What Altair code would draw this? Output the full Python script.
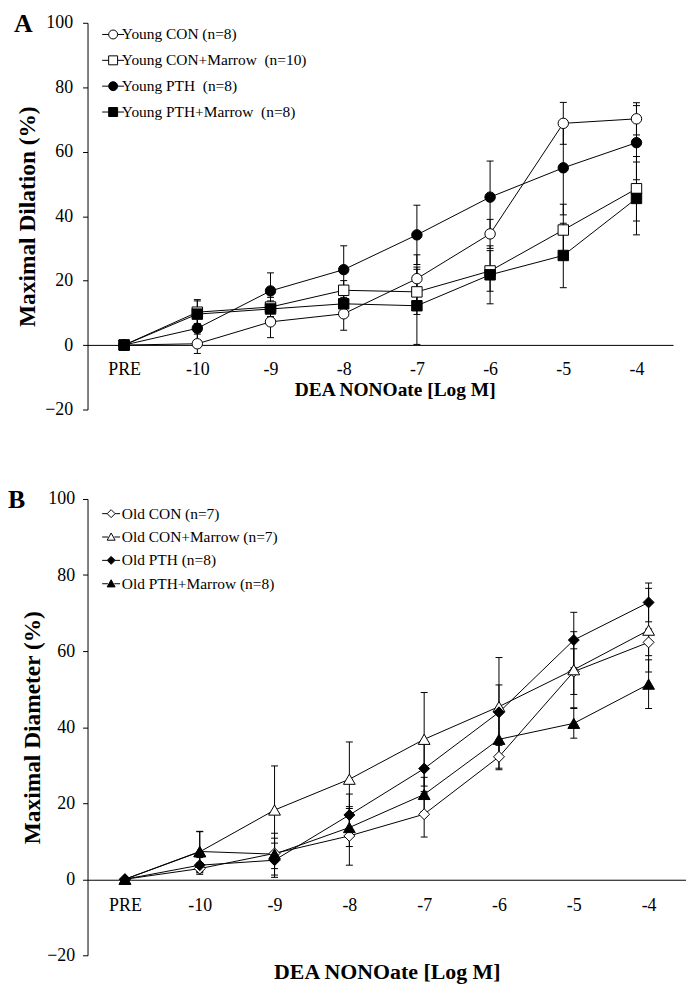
import altair as alt
import pandas as pd

x_labels = ["PRE", "-10", "-9", "-8", "-7", "-6", "-5", "-4"]

# ---------- Panel A (young) ----------
a_names = ["Young CON (n=8)", "Young CON+Marrow\u00a0 (n=10)",
           "Young PTH\u00a0 (n=8)", "Young PTH+Marrow\u00a0 (n=8)"]
a_young_con = [0, 0.4, 7.2, 9.7, 20.6, 34.5, 68.8, 70.2]
a_young_con_sem = [0, 3.0, 4.9, 5.1, 7.4, 4.5, 6.5, 5.0]
a_young_con_marrow = [0, 10.2, 11.8, 17.0, 16.5, 23.0, 35.7, 48.5]
a_young_con_marrow_sem = [0, 3.5, 3.0, 3.0, 7.0, 6.3, 8.0, 10.0]
a_young_pth = [0, 5.2, 16.8, 23.4, 34.2, 45.9, 55.0, 62.8]
a_young_pth_sem = [0, 4.0, 5.6, 7.4, 9.2, 11.2, 14.6, 11.5]
a_young_pth_marrow = [0, 9.6, 11.2, 12.8, 12.2, 21.8, 27.8, 45.5]
a_young_pth_marrow_sem = [0, 4.5, 2.5, 3.0, 12.0, 9.0, 10.0, 11.3]

# ---------- Panel B (old) ----------
b_names = ["Old CON (n=7)", "Old CON+Marrow (n=7)", "Old PTH (n=8)", "Old PTH+Marrow (n=8)"]
b_old_con = [0, 2.8, 6.8, 11.4, 17.1, 32.2, 54.6, 62.3]
b_old_con_sem = [0, 1.5, 4.0, 7.7, 6.0, 3.0, 6.0, 3.5]
b_old_con_marrow = [0, 7.2, 18.2, 26.3, 36.8, 45.4, 55.1, 65.5]
b_old_con_marrow_sem = [0, 5.3, 11.6, 9.8, 12.3, 12.9, 10.0, 11.0]
b_old_pth = [0, 3.7, 5.0, 16.9, 29.1, 43.9, 62.9, 72.8]
b_old_pth_sem = [0, 2.0, 4.5, 5.5, 6.5, 7.2, 7.3, 5.1]
b_old_pth_marrow = [0, 7.3, 6.6, 13.6, 22.3, 36.8, 41.0, 51.3]
b_old_pth_marrow_sem = [0, 5.3, 5.5, 5.0, 4.5, 8.0, 3.9, 6.4]

FONT = "Liberation Serif"


def make_df(names, means, sems):
    rows = []
    for name, m, s in zip(names, means, sems):
        for i, (lab, mv, sv) in enumerate(zip(x_labels, m, s)):
            rows.append({"series": name, "x": lab, "idx": i, "mean": mv,
                         "lo": mv - sv, "hi": mv + sv, "sem": sv})
    return pd.DataFrame(rows)


def panel(df, names, shapes, sizes, fills, legend_paths, legend_size, letter,
          ytitle, width, height, xoffset, xlab_pad, xtitle_pad, xtitle_size,
          xtitle_x, ytitle_size, ylab_pad, ytitle_pad, letter_x, letter_y,
          legend_x, legend_y, row_pad, label_offset):
    xscale = alt.Scale(domain=x_labels, type="point", padding=0.5)
    yscale = alt.Scale(domain=[-20, 100], nice=False, zero=False)
    xax = alt.Axis(title="DEA NONOate [Log M]", offset=xoffset, ticks=False,
                   tickSize=0, labelAngle=0, labelPadding=xlab_pad,
                   titlePadding=xtitle_pad, titleFontSize=xtitle_size,
                   titleX=xtitle_x, titleAlign="center", labelFontSize=18)
    yax = alt.Axis(title=ytitle, values=[-20, 0, 20, 40, 60, 80, 100],
                   tickSize=5, labelPadding=ylab_pad, titlePadding=ytitle_pad,
                   titleFontSize=ytitle_size, labelFontSize=18)
    X = alt.X("x:N", scale=xscale, axis=xax)
    base = alt.Chart(df)
    lines = base.mark_line(color="black", strokeWidth=1).encode(
        x=X, y=alt.Y("mean:Q", scale=yscale, axis=yax),
        detail="series:N", order="idx:Q")
    eb = base.transform_filter("datum.sem > 0")
    rules = eb.mark_rule(color="black", strokeWidth=1).encode(
        x=X, y=alt.Y("lo:Q", scale=yscale, axis=yax), y2="hi:Q")
    tlo = eb.mark_tick(color="black", thickness=1, size=7, opacity=1).encode(
        x=X, y=alt.Y("lo:Q", scale=yscale, axis=yax))
    thi = eb.mark_tick(color="black", thickness=1, size=7, opacity=1).encode(
        x=X, y=alt.Y("hi:Q", scale=yscale, axis=yax))
    pts = []
    for name, shp, sz, fc in zip(names, shapes, sizes, fills):
        pts.append(
            base.transform_filter(alt.datum.series == name)
            .mark_point(shape=shp, size=sz, filled=True, fill=fc, stroke="black",
                        strokeWidth=1, opacity=1)
            .encode(x=X, y=alt.Y("mean:Q", scale=yscale, axis=yax))
        )
    leg = alt.Legend(title=None, orient="none", legendX=legend_x, legendY=legend_y,
                     labelFont=FONT, labelFontSize=15.5, labelColor="black",
                     rowPadding=row_pad, labelOffset=label_offset,
                     symbolSize=legend_size, symbolStrokeColor="black",
                     symbolStrokeWidth=1, padding=0, offset=0, labelLimit=500)
    legend_layer = (
        base.transform_filter("false")
        .mark_point(filled=True, size=legend_size, stroke="black", strokeWidth=1,
                    opacity=1)
        .encode(
            x=X, y=alt.Y("mean:Q", scale=yscale, axis=yax),
            shape=alt.Shape("series:N", scale=alt.Scale(domain=names, range=legend_paths),
                            legend=leg),
            fill=alt.Fill("series:N", scale=alt.Scale(domain=names, range=fills),
                          legend=leg),
            stroke=alt.Stroke("series:N", scale=alt.Scale(domain=names, range=["black"] * 4),
                              legend=leg),
        )
    )
    letter_layer = alt.Chart(alt.Data(values=[{"t": letter}])).mark_text(
        font=FONT, fontSize=26, fontWeight="bold", align="left",
        baseline="top", color="black").encode(
        text="t:N", x=alt.value(letter_x), y=alt.value(letter_y))
    return alt.layer(lines, rules, tlo, thi, *pts, legend_layer, letter_layer).properties(
        width=width, height=height)


dfA = make_df(a_names,
              [a_young_con, a_young_con_marrow, a_young_pth, a_young_pth_marrow],
              [a_young_con_sem, a_young_con_marrow_sem, a_young_pth_sem, a_young_pth_marrow_sem])
dfB = make_df(b_names,
              [b_old_con, b_old_con_marrow, b_old_pth, b_old_pth_marrow],
              [b_old_con_sem, b_old_con_marrow_sem, b_old_pth_sem, b_old_pth_marrow_sem])

stA = 2.45
stB = 2.25
pathsA = [
    f"M-{stA},0L-1,0M1,0L{stA},0M-1,0A1,1,0,1,1,1,0A1,1,0,1,1,-1,0Z",
    f"M-{stA},0L-1,0M1,0L{stA},0M-1,-1L1,-1L1,1L-1,1Z",
    f"M-{stA},0L-1,0M1,0L{stA},0M-1,0A1,1,0,1,1,1,0A1,1,0,1,1,-1,0Z",
    f"M-{stA},0L-1,0M1,0L{stA},0M-1,-1L1,-1L1,1L-1,1Z",
]
pathsB = [
    f"M-{stB},0L-1,0M1,0L{stB},0M-1,0L0,-1L1,0L0,1Z",
    f"M-{stB},0L-0.8,0M0.8,0L{stB},0M0,-1L1,0.8L-1,0.8Z",
    f"M-{stB},0L-1,0M1,0L{stB},0M-1,0L0,-1L1,0L0,1Z",
    f"M-{stB},0L-0.8,0M0.8,0L{stB},0M0,-1L1,0.8L-1,0.8Z",
]

chartA = panel(dfA, a_names, ["circle", "square", "circle", "square"],
               [110, 110, 110, 110], ["white", "white", "black", "black"],
               pathsA, 81, "A", "Maximal Dilation (%)",
               width=589, height=389, xoffset=-65, xlab_pad=16, xtitle_pad=2,
               xtitle_size=19.5, xtitle_x=309, ytitle_size=23.5, ylab_pad=10,
               ytitle_pad=5, letter_x=-74, letter_y=-12, legend_x=18, legend_y=4,
               row_pad=9, label_offset=1)

chartB = panel(dfB, b_names, ["diamond", "triangle-up", "diamond", "triangle-up"],
               [121, 140, 121, 140], ["white", "white", "black", "black"],
               pathsB, 64, "B", "Maximal Diameter (%)",
               width=602, height=459, xoffset=-76, xlab_pad=17, xtitle_pad=47,
               xtitle_size=22, xtitle_x=301, ytitle_size=23.5, ylab_pad=8,
               ytitle_pad=2, letter_x=-80, letter_y=-12, legend_x=16, legend_y=7,
               row_pad=6.5, label_offset=3)

chart = alt.ConcatChart(concat=[chartA, chartB], columns=1, spacing=69, align="none").resolve_scale(
    shape="independent", fill="independent", stroke="independent"
).resolve_legend(
    shape="independent", fill="independent", stroke="independent"
).configure(
    padding=0
).configure_view(stroke=None).configure_axis(
    labelFont=FONT, titleFont=FONT, labelColor="black", titleColor="black",
    domainColor="black", tickColor="black", titleFontWeight="bold", grid=False,
    domainWidth=1, tickWidth=1
)
chart = chart.properties(padding=0)

chart.save("out.html", embed_options={"renderer": "svg", "actions": False})
